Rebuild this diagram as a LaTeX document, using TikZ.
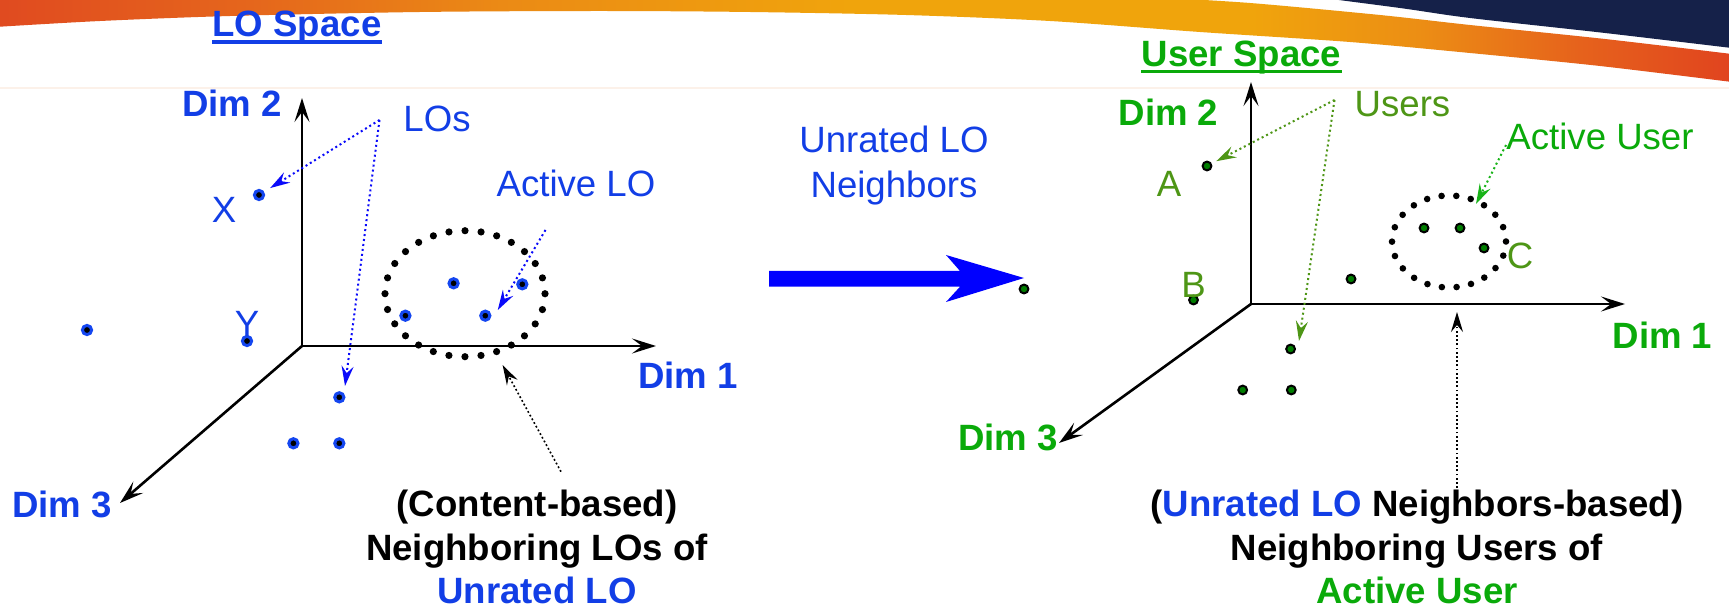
\documentclass[tikz,border=0pt]{standalone}
\usepackage{fontspec}
\setmainfont{Liberation Sans}
\usetikzlibrary{arrows.meta,calc}
\definecolor{lblue}{RGB}{18,62,230}
\definecolor{ptblue}{RGB}{20,70,240}
\definecolor{dblue}{RGB}{10,10,250}
\definecolor{bigblue}{RGB}{0,0,255}
\definecolor{gtxt}{RGB}{10,170,10}
\definecolor{agreen}{RGB}{25,180,25}
\definecolor{usrolive}{RGB}{78,150,22}
\definecolor{ptgreen}{RGB}{0,125,0}
\definecolor{navyone}{RGB}{21,33,73}
\definecolor{faintline}{RGB}{252,241,233}
\definecolor{bcA}{RGB}{224,74,32}
\definecolor{bcB}{RGB}{229,102,28}
\definecolor{bcC}{RGB}{235,138,21}
\definecolor{bcD}{RGB}{240,164,12}
\definecolor{bcE}{RGB}{236,142,20}
\definecolor{bcF}{RGB}{230,98,28}
\definecolor{bcG}{RGB}{224,66,31}
\pgfdeclarehorizontalshading{bandshade}{100bp}{color(0bp)=(bcA); color(25bp)=(bcA); color(32.3bp)=(bcB); color(39.5bp)=(bcC); color(49.5bp)=(bcD); color(61bp)=(bcD); color(65.8bp)=(bcE); color(70.4bp)=(bcF); color(75bp)=(bcG); color(100bp)=(bcG)}
\begin{document}
\begin{tikzpicture}[x=0.5pt,y=-0.5pt,
  bt/.style={inner sep=0pt, anchor=base, font=\fontsize{18.3}{22}\selectfont\bfseries},
  nt/.style={inner sep=0pt, anchor=base, font=\fontsize{18.3}{22}\selectfont},
  bpt/.style={circle, inner sep=0pt, minimum size=4.6pt, fill=black, draw=ptblue, line width=1.5pt},
  gpt/.style={circle, inner sep=0pt, minimum size=4.4pt, fill=ptgreen, draw=black, line width=1pt},
  axis/.style={line width=1.3pt, -{Stealth[length=12pt,width=7.5pt,inset=5pt]}},
  dtip/.style={-{Stealth[length=10pt,width=6pt,inset=3.5pt]}},
  bdot/.style={dtip, draw=dblue, line width=1pt, dash pattern=on 1pt off 1.5pt},
  kdot/.style={dtip, draw=black, line width=0.8pt, dash pattern=on 0.9pt off 1.2pt},
  odot/.style={dtip, draw=usrolive, line width=1pt, dash pattern=on 1pt off 1.5pt},
  gdot/.style={dtip, draw=agreen, line width=1pt, dash pattern=on 1pt off 1.5pt},
  ringL/.style={line width=3.6pt, line cap=round, dash pattern=on 0pt off 8.05pt},
  ringR/.style={line width=3.3pt, line cap=round, dash pattern=on 0pt off 7.38pt}]
\useasboundingbox (0,0) rectangle (1729,609);
\fill[white] (0,0) rectangle (1729,609);
% banner
\begin{scope}
\clip (0,0) rectangle (1729,609);
\shade[shading=bandshade] (-5,-5) -- (1150,-5) -- plot[smooth] coordinates {(1150,-3) (1250,3) (1380,15) (1470,25) (1605,39) (1740,55)} -- (1740,83) -- plot[smooth] coordinates {(1740,83) (1600,66) (1470,53) (1350,42) (1200,32) (1050,21) (906,15) (750,12) (600,11) (420,12) (230,16) (100,21) (-5,27)} -- cycle;
\fill[navyone] (1300,-5) -- plot[smooth] coordinates {(1300,-5) (1400,8) (1470,18) (1605,33) (1740,49)} -- (1740,-5) -- cycle;
\draw[faintline, line width=1pt] (0,88) -- (1729,88);
\end{scope}

% ---------- left panel ----------
\coordinate (O1) at (302,346);
\coordinate (T2L) at (302,98);
\coordinate (T1L) at (656,346);
\coordinate (T3L) at (120,503);
\draw[axis] (O1) -- (T2L);
\draw[axis] (O1) -- (T1L);
\draw[axis] (O1) -- (T3L);

\draw[ringL] (465,293.7) ellipse [x radius=40pt, y radius=31.5pt];

\node[bpt] (bX) at (259,195) {};
\node[bpt] (bY) at (247,341) {};
\node[bpt] (bF) at (87,330) {};
\node[bpt] (bE1) at (453.6,283.3) {};
\node[bpt] (bE2) at (405.4,315.7) {};
\node[bpt] (bE3) at (485.3,315.7) {};
\node[bpt] (bE4) at (522.3,284.3) {};
\node[bpt] (bL1) at (339.3,397.3) {};
\node[bpt] (bL2) at (293.4,443.3) {};
\node[bpt] (bL3) at (339.3,443.3) {};

\node[bt, text=lblue] (loSpace) at (297,37) {LO Space};
\draw[lblue, line width=1.65pt] ($(loSpace.base west)+(0,5)$) -- ($(loSpace.base east)+(0,5)$);
\node[bt, text=lblue] (dimTwoL) at (232,117) {Dim 2};
\node[bt, text=lblue] (dimOneL) at (688,388) {Dim 1};
\node[bt, text=lblue] (dimThreeL) at (62,517) {Dim 3};
\node[nt, text=lblue] (losL) at (437,132) {LOs};
\node[nt, text=lblue] (xL) at (224,222.5) {X};
\node[nt, text=lblue] (yL) at (247,336) {Y};
\node[nt, text=lblue] (actLO) at (576,196.5) {Active LO};

\coordinate (vLO) at (379.5,120);
\coordinate (tLOtwo) at (345,386);
\draw[bdot, shorten >=3.5pt] (vLO) -- (bX);
\draw[bdot] (vLO) -- (tLOtwo);
\coordinate (sAct) at (545.5,230);
\coordinate (tAct) at (497.8,310);
\draw[bdot] (sAct) -- (tAct);
\coordinate (sCB) at (561,471.7);
\coordinate (tCB) at (502.6,365);
\draw[kdot] (sCB) -- (tCB);

\node[bt] (cbOne) at (537,516.5) {(Content-based)};
\node[bt] (cbTwo) at (537,560) {Neighboring LOs of};
\node[bt, text=lblue] (cbThree) at (537,603) {Unrated LO};

% ---------- middle ----------
\node[nt, text=lblue] (ulOne) at (894,153) {Unrated LO};
\node[nt, text=lblue] (ulTwo) at (894,198) {Neighbors};
\fill[bigblue] (769,271) -- (960,271) -- (946,255) -- (1024,278) -- (946,302) -- (960,286.7) -- (769,286.7) -- cycle;

% ---------- right panel ----------
\coordinate (O2) at (1251,304);
\coordinate (T2R) at (1251,82);
\coordinate (T1R) at (1625,304);
\coordinate (T3R) at (1059,443);
\draw[axis] (O2) -- (T2R);
\draw[axis] (O2) -- (T1R);
\draw[axis] (O2) -- (T3R);

\draw[ringR] (1449,241.5) ellipse [x radius=28.5pt, y radius=23pt];

\node[gpt] (gM) at (1024,289) {};
\node[gpt] (gA) at (1207,166) {};
\node[gpt] (gB) at (1193.5,300) {};
\node[gpt] (gF) at (1351,279) {};
\node[gpt] (gEone) at (1424,228) {};
\node[gpt] (gEtwo) at (1460,228) {};
\node[gpt] (gEthree) at (1484,248) {};
\node[gpt] (gLone) at (1290.6,349) {};
\node[gpt] (gLtwo) at (1242.7,390) {};
\node[gpt] (gLthree) at (1291.3,390) {};

\node[bt, text=gtxt] (userSpace) at (1241.5,67) {User Space};
\draw[gtxt, line width=1.65pt] ($(userSpace.base west)+(0,4.5)$) -- ($(userSpace.base east)+(0,4.5)$);
\node[bt, text=gtxt] (dimTwoR) at (1168.5,126) {Dim 2};
\node[bt, text=gtxt] (dimOneR) at (1662.5,349) {Dim 1};
\node[bt, text=gtxt] (dimThreeR) at (1008,450) {Dim 3};
\node[nt, text=usrolive] (usersL) at (1402.5,116.5) {Users};
\node[nt, text=gtxt] (actU) at (1600,150) {Active User};
\node[nt, text=usrolive] (aL) at (1169,197) {A};
\node[nt, text=usrolive] (bL) at (1193.5,298) {B};
\node[nt, text=usrolive] (cL) at (1520,269) {C};

\coordinate (vU) at (1334.5,100);
\coordinate (tUtwo) at (1299,341);
\draw[odot, shorten >=2.5pt] (vU) -- (gA);
\draw[odot] (vU) -- (tUtwo);
\coordinate (sAU) at (1506,145);
\coordinate (tAU) at (1476,204);
\draw[gdot] (sAU) -- (tAU);
\coordinate (sNB) at (1457,488);
\coordinate (tNB) at (1457,312);
\draw[kdot] (sNB) -- (tNB);

\node[bt] (nbOne) at (1417,516.5) {(\textcolor{lblue}{Unrated LO} Neighbors-based)};
\node[bt] (nbTwo) at (1417,560) {Neighboring Users of};
\node[bt, text=gtxt] (nbThree) at (1417,603) {Active User};
\end{tikzpicture}
\end{document}
